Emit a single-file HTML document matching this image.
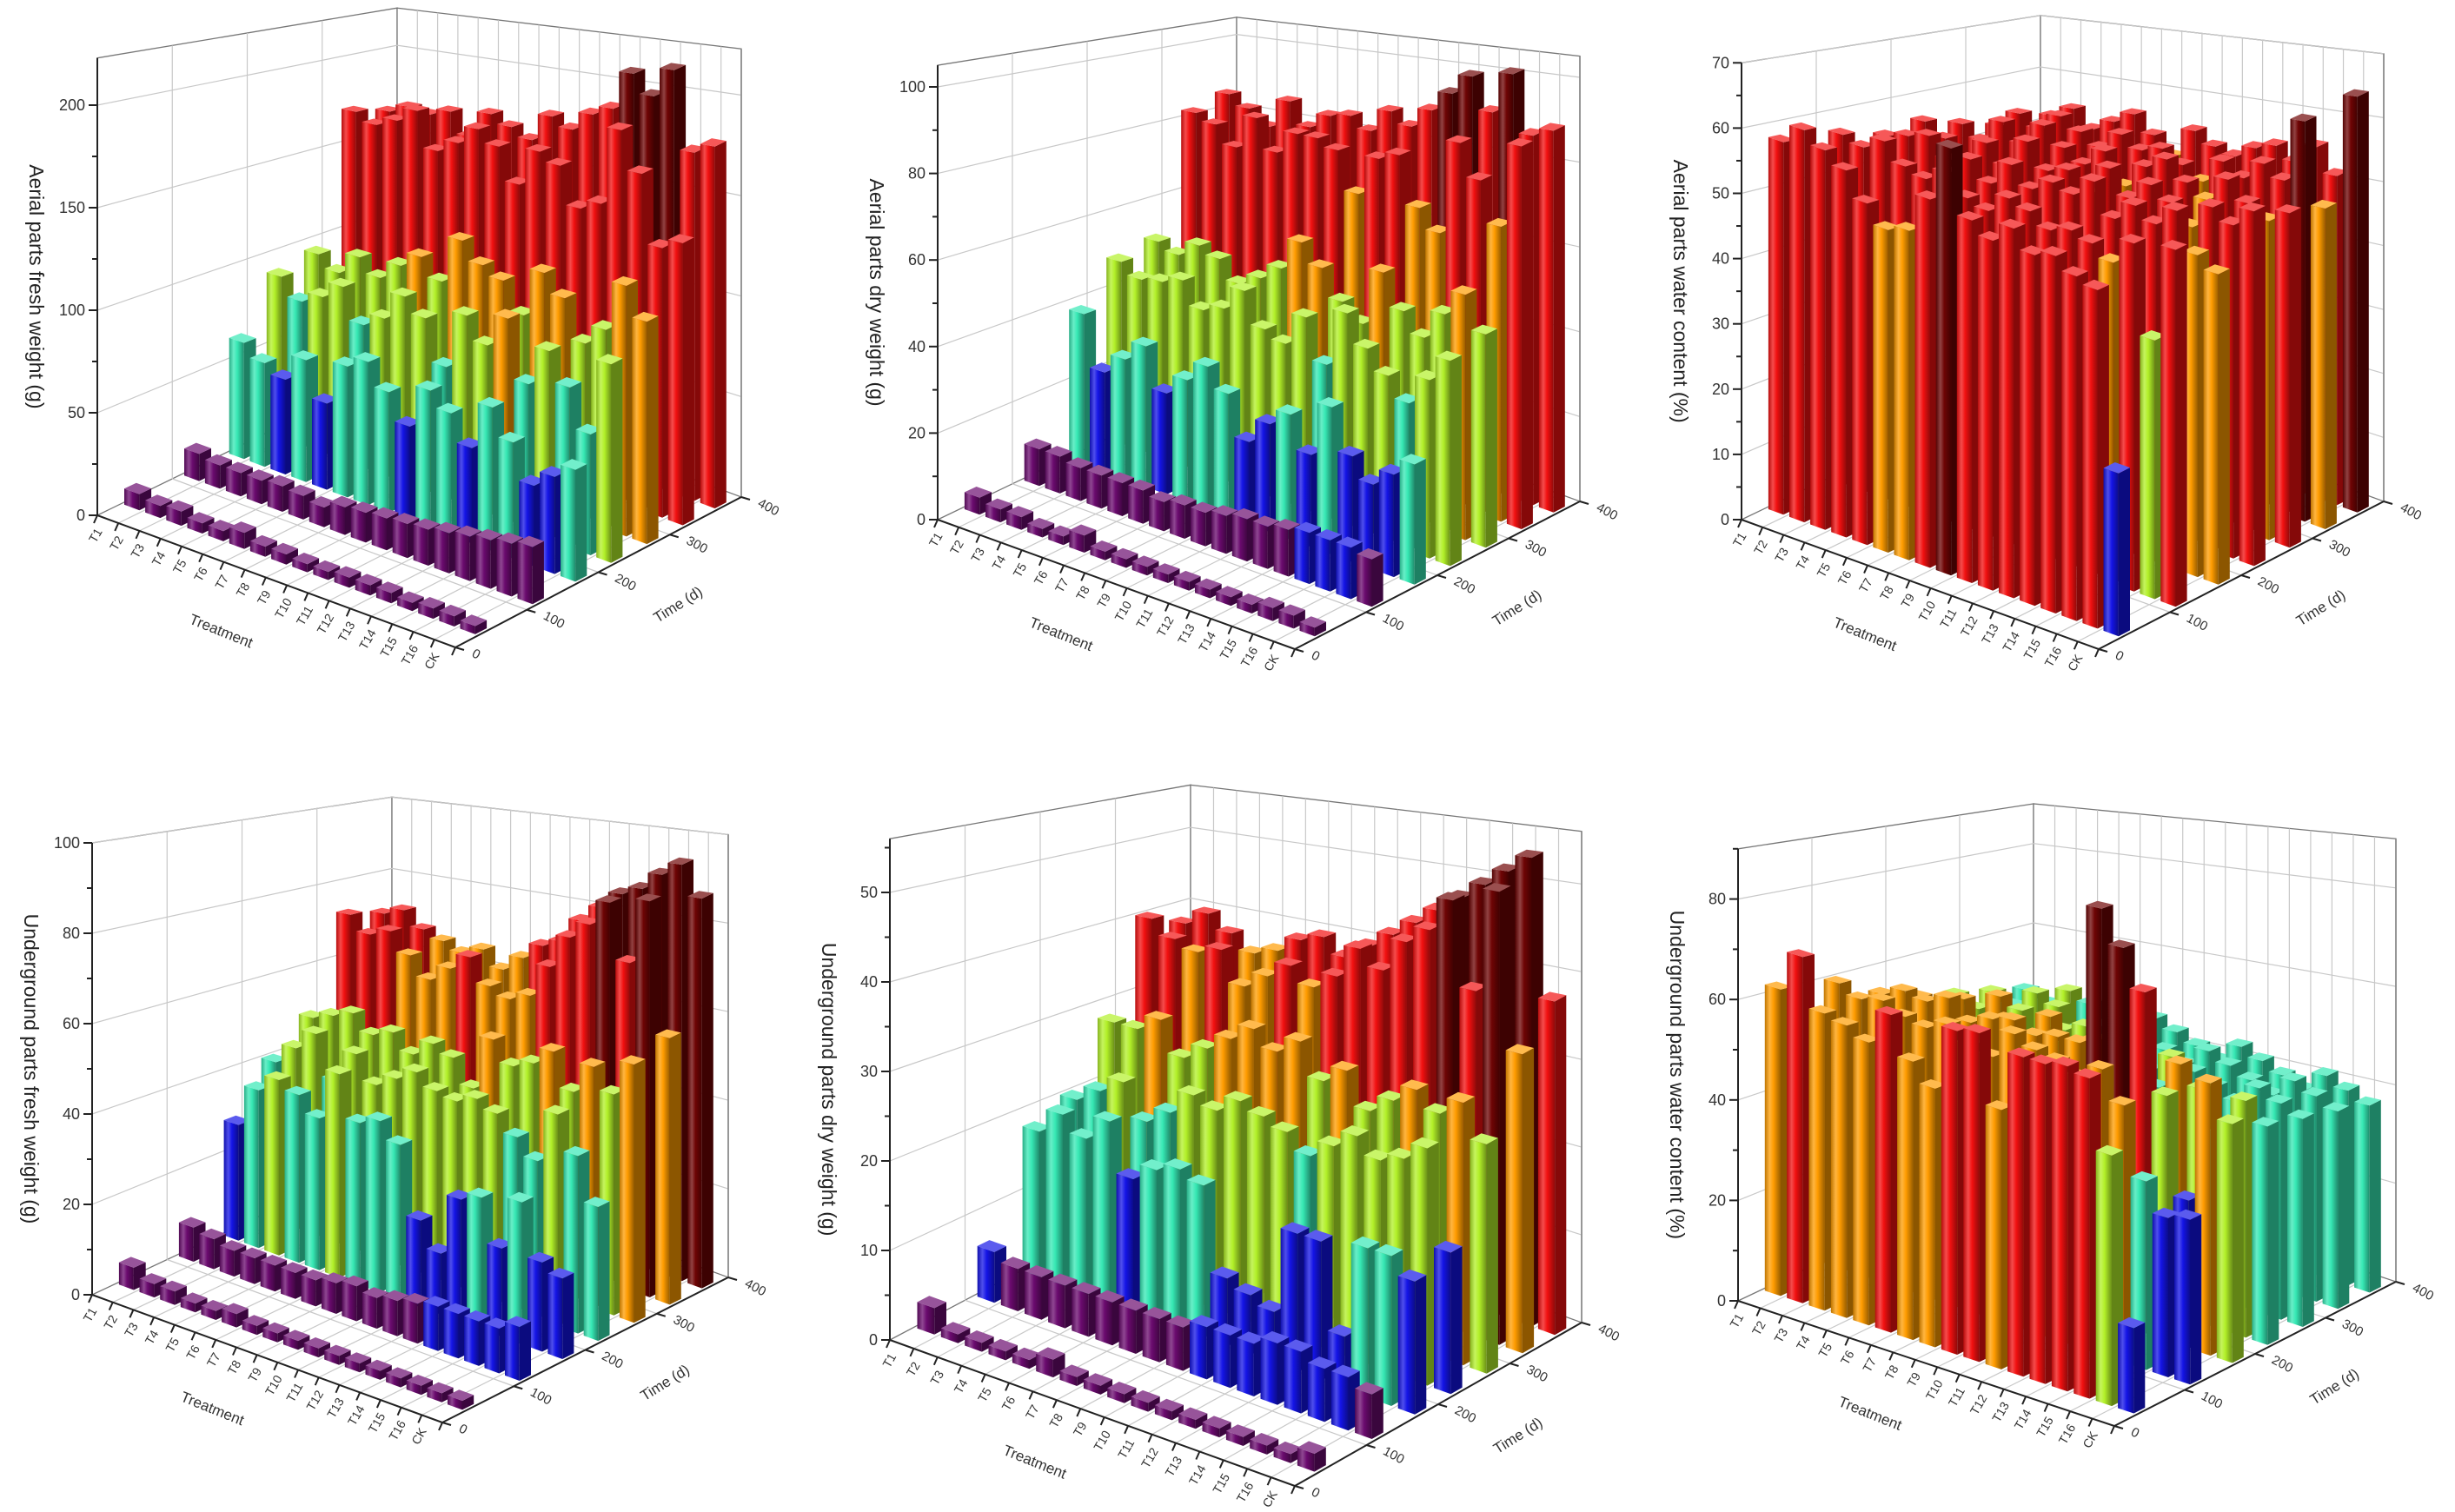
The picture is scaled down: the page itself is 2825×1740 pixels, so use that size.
<!DOCTYPE html>
<html><head><meta charset="utf-8">
<style>
html,body{margin:0;padding:0;background:#fff;}
svg{display:block;font-family:"Liberation Sans",Arial,sans-serif;}
</style></head>
<body>
<svg id="fig" width="2825" height="1740" viewBox="0 0 2825 1740" xmlns="http://www.w3.org/2000/svg">
<defs id="defs"></defs>
</svg>
<script>
// ---- data ----
const treatments = ["T1","T2","T3","T4","T5","T6","T7","T8","T9","T10","T11","T12","T13","T14","T15","T16","CK"];
const times = [40, 120, 180, 230, 280, 330, 375];
const timeTicks = [0, 100, 200, 300, 400];

const aerialFresh = [
 [8,6,7,5,5,8,5,5,4,4,5,5,5,4,5,5,4],
 [14,12,12,12,13,12,10,14,15,16,17,18,20,22,24,26,28],
 [62,55,50,64,45,68,74,62,48,70,62,48,72,58,40,48,55],
 [90,80,86,95,78,85,100,92,70,100,88,105,75,95,80,60,98],
 [95,88,100,92,102,110,100,125,115,110,95,120,110,90,100,125,110],
 [170,165,170,178,158,165,175,168,150,170,165,145,150,190,170,135,140],
 [165,170,168,172,160,175,170,165,180,175,185,190,210,200,215,175,180]
];
const aerialDry = [
 [4,3,3,2,2,4,2,2,2,2,2,2,2,2,3,3,2],
 [9,9,8,8,8,8,7,8,8,9,10,10,11,12,12,12,11],
 [38,25,30,35,25,30,35,30,20,26,30,22,35,25,20,24,28],
 [48,45,46,48,42,44,50,42,40,48,38,52,45,40,35,42,48],
 [50,48,52,50,45,48,52,60,55,48,44,58,50,45,52,58,50],
 [82,80,75,84,76,82,82,80,70,80,82,70,65,88,80,70,90],
 [85,82,78,86,80,84,85,82,88,85,90,95,100,92,102,88,90]
];
const aerialWater = [
 [58,61,59,57,53,50,51,57,66,56,54,57,54,55,53,52,25],
 [57,56,58,55,54,56,53,52,55,54,52,53,52,50,54,40,55],
 [55,56,57,54,55,52,56,53,55,54,57,52,55,53,56,50,48],
 [56,54,50,55,52,57,53,54,51,56,52,55,53,50,54,52,55],
 [54,52,56,53,57,54,52,55,50,54,56,53,51,55,52,50,52],
 [52,55,53,56,54,52,55,53,54,52,50,54,52,55,53,63,50],
 [50,53,55,52,54,56,53,50,55,53,52,54,55,53,56,52,65]
];
const underFresh = [
 [5,3,3,2,2,3,2,2,2,2,2,2,2,2,2,2,2],
 [8,7,6,6,6,6,6,7,8,7,8,9,10,10,10,10,12],
 [28,38,42,40,36,48,38,40,36,20,14,28,30,20,32,20,18],
 [40,45,50,40,48,42,45,48,45,44,46,44,40,36,48,40,30],
 [48,50,52,48,50,46,50,48,42,55,50,52,56,48,55,50,58],
 [72,68,70,65,60,64,68,62,60,62,70,78,82,88,75,90,60],
 [70,72,68,66,64,66,62,66,70,72,78,82,86,88,92,95,88]
];
const underDry = [
 [3,1,1,1,1,2,1,1,1,1,1,1,1,1,1,1,2],
 [6,5,5,5,5,5,5,5,5,6,6,6,7,7,6,6,5],
 [18,21,19,22,16,18,19,18,8,7,6,16,16,6,17,17,15],
 [20,22,24,20,22,25,24,26,25,24,22,24,26,24,25,27,16],
 [28,28,30,26,28,30,32,30,32,28,30,26,28,30,28,30,26],
 [40,38,37,38,34,36,38,36,38,42,40,44,46,50,40,52,34],
 [38,40,38,36,37,39,40,38,40,42,44,46,48,50,52,54,38]
];
const underWater = [
 [62,70,60,59,57,64,56,52,65,66,52,64,64,65,64,50,17],
 [60,58,59,57,56,58,55,54,60,58,57,55,58,52,38,32,33],
 [55,57,56,58,54,56,57,55,56,56,85,78,70,50,30,55,48],
 [52,50,54,50,52,48,55,50,52,48,50,46,52,48,40,48,44],
 [50,48,52,50,46,48,50,48,46,44,48,46,44,42,46,44,42],
 [48,46,50,48,44,46,48,46,44,42,46,44,42,40,44,42,40],
 [46,44,48,46,42,44,46,44,42,40,44,42,40,38,42,40,38]
];

const palette = ["#6a0a6e","#1414e6","#36e8b4","#b2f028","#ff9c00","#f21010","#6e0404"];

const panels = [
 {title:"Aerial parts fresh weight (g)", values:aerialFresh, yTicks:[0,50,100,150,200], minor:25, zmax:223, thr:[35,55,82,105,135,195],
  O:[112,593], A:[524,745], B:[853,572], k:2.36},
 {title:"Aerial parts dry weight (g)", values:aerialDry, yTicks:[0,20,40,60,80,100], minor:10, zmax:105, thr:[12,27,40,55,72,95],
  O:[1079,598], A:[1490,747], B:[1818,577], k:4.98},
 {title:"Aerial parts water content (%)", values:aerialWater, yTicks:[0,10,20,30,40,50,60,70], minor:5, zmax:70, thr:[5,30,35,42,52,62],
  O:[2004,598], A:[2415,747], B:[2743,577], k:7.51},
 {title:"Underground parts fresh weight (g)", values:underFresh, yTicks:[0,20,40,60,80,100], minor:10, zmax:100, thr:[10,30,42,55,68,85],
  O:[106,1490], A:[509,1637], B:[838,1470], k:5.2},
 {title:"Underground parts dry weight (g)", values:underDry, yTicks:[0,10,20,30,40,50], minor:5, zmax:56, thr:[6,17,24,30,38,48],
  O:[1024,1542], A:[1490,1710], B:[1820,1522], k:10.3},
 {title:"Underground parts water content (%)", values:underWater, yTicks:[0,20,40,60,80], minor:10, zmax:90, thr:[10,38,48,52,63,75],
  O:[2000,1497], A:[2433,1641], B:[2757,1475], k:5.78}
];

const NS = "http://www.w3.org/2000/svg";
const svg = document.getElementById("fig");
const defs = document.getElementById("defs");

function shade(hex, f){
  let r=parseInt(hex.slice(1,3),16),g=parseInt(hex.slice(3,5),16),b=parseInt(hex.slice(5,7),16);
  if(f>1){r=r+(255-r)*(f-1);g=g+(255-g)*(f-1);b=b+(255-b)*(f-1);}
  else{r*=f;g*=f;b*=f;}
  return "rgb("+Math.round(r)+","+Math.round(g)+","+Math.round(b)+")";
}
palette.forEach(function(c,ci){
  const lg=document.createElementNS(NS,"linearGradient");
  lg.setAttribute("id","g"+ci);
  lg.setAttribute("x1","0");lg.setAttribute("x2","1");lg.setAttribute("y1","0");lg.setAttribute("y2","0");
  [[0,shade(c,0.75)],[0.3,shade(c,1.25)],[0.55,c],[1,shade(c,0.6)]].forEach(function(s){
    const st=document.createElementNS(NS,"stop");
    st.setAttribute("offset",s[0]);st.setAttribute("stop-color",s[1]);lg.appendChild(st);
  });
  defs.appendChild(lg);
});

function mk(tag, attrs, parent){
  const e=document.createElementNS(NS,tag);
  for(const k in attrs) e.setAttribute(k,attrs[k]);
  (parent||svg).appendChild(e);
  return e;
}
function pts(a){return a.map(function(p){return p[0].toFixed(1)+","+p[1].toFixed(1);}).join(" ");}

panels.forEach(function(P, pi){
  const O=P.O, A=P.A, B=P.B;
  const C=[O[0]+B[0]-A[0]+16, O[1]+B[1]-A[1]+5];
  const kO=P.k, kA=P.k, kB=P.k*0.98, kC=P.k*0.79;
  const nT=treatments.length;
  function fl(u,t){
    const a=u/nT, b=t/400;
    return [(1-a)*(1-b)*O[0]+a*(1-b)*A[0]+a*b*B[0]+(1-a)*b*C[0],
            (1-a)*(1-b)*O[1]+a*(1-b)*A[1]+a*b*B[1]+(1-a)*b*C[1]];
  }
  function kk(u,t){const a=u/nT,b=t/400;return (1-a)*(1-b)*kO+a*(1-b)*kA+a*b*kB+(1-a)*b*kC;}
  function pt(u,t,z){const p=fl(u,t);return [p[0],p[1]-z*kk(u,t)];}
  function colorIdx(v){let i=0;while(i<P.thr.length && v>=P.thr[i]) i++;return i;}

  const g=mk("g",{});
  
  

  const wallL=mk("polygon",{points:pts([pt(0,0,0),pt(0,400,0),pt(0,400,P.zmax),pt(0,0,P.zmax)]),fill:"#fff",stroke:"#777","stroke-width":1.3},g);
  
  
  const wallR=mk("polygon",{points:pts([pt(0,400,0),pt(nT,400,0),pt(nT,400,P.zmax),pt(0,400,P.zmax)]),fill:"#fff",stroke:"#777","stroke-width":1.3},g);
  
  
  const grid=mk("g",{stroke:"#c8c8c8","stroke-width":1.2,fill:"none"},g);
  
  
  P.yTicks.forEach(function(v){
    if(v===0) return;
    mk("polyline",{points:pts([pt(0,0,v),pt(0,400,v),pt(nT,400,v)])},grid);
  });
  [100,200,300].forEach(function(t){
    mk("line",{x1:pt(0,t,0)[0],y1:pt(0,t,0)[1],x2:pt(0,t,P.zmax)[0],y2:pt(0,t,P.zmax)[1]},grid);
    mk("line",{x1:fl(0,t)[0],y1:fl(0,t)[1],x2:fl(nT,t)[0],y2:fl(nT,t)[1]},grid);
  });
  for(let j=1;j<=nT;j++){
    mk("line",{x1:pt(j,400,0)[0],y1:pt(j,400,0)[1],x2:pt(j,400,P.zmax)[0],y2:pt(j,400,P.zmax)[1]},grid);
    mk("line",{x1:fl(j,0)[0],y1:fl(j,0)[1],x2:fl(j,400)[0],y2:fl(j,400)[1]},grid);
  }
  mk("line",{x1:pt(nT,400,0)[0],y1:pt(nT,400,0)[1],x2:pt(nT,400,P.zmax)[0],y2:pt(nT,400,P.zmax)[1],stroke:"#777","stroke-width":1.3},g);

  const bars=[];
  P.values.forEach(function(row,ri){
    row.forEach(function(v,ti){bars.push({v:v,ti:ti,ri:ri,y:fl(ti+0.5,times[ri])[1]});});
  });
  bars.sort(function(a,b){return a.y-b.y;});
  const hw=0.36, hd=8;
  const barsG=mk("g",{},g);
  
  
  bars.forEach(function(b){
    const u0=b.ti+0.5-hw,u1=b.ti+0.5+hw,t0=times[b.ri]-hd,t1=times[b.ri]+hd;
    const ci=colorIdx(b.v), col=palette[ci];
    const bg=mk("g",{},barsG);
    
    
    mk("polygon",{points:pts([pt(u1,t0,0),pt(u1,t1,0),pt(u1,t1,b.v),pt(u1,t0,b.v)]),fill:shade(col,0.55)},bg);
    mk("polygon",{points:pts([pt(u0,t0,0),pt(u1,t0,0),pt(u1,t0,b.v),pt(u0,t0,b.v)]),fill:"url(#g"+ci+")"},bg);
    mk("polygon",{points:pts([pt(u0,t0,b.v),pt(u1,t0,b.v),pt(u1,t1,b.v),pt(u0,t1,b.v)]),fill:shade(col,1.3)},bg);
  });

  const ax=mk("g",{stroke:"#222","stroke-width":2,fill:"none"},g);
  
  
  mk("line",{x1:O[0],y1:O[1],x2:pt(0,0,P.zmax)[0],y2:pt(0,0,P.zmax)[1]},ax);
  mk("line",{x1:O[0],y1:O[1],x2:A[0],y2:A[1]},ax);
  mk("line",{x1:A[0],y1:A[1],x2:B[0],y2:B[1]},ax);
  for(let v=0; v<=P.zmax; v+=P.minor){
    const p=pt(0,0,v); const major=P.yTicks.indexOf(v)>=0;
    mk("line",{x1:p[0]-(major?10:6),y1:p[1],x2:p[0],y2:p[1]},ax);
  }
  for(let j=0;j<=nT;j++){const p=fl(j,0);mk("line",{x1:p[0],y1:p[1],x2:p[0]-4,y2:p[1]+9},ax);}
  timeTicks.forEach(function(t){const p=fl(nT,t);mk("line",{x1:p[0],y1:p[1],x2:p[0]+10,y2:p[1]+3},ax);});

  const lab=mk("g",{fill:"#333","font-size":18},g);
  
  
  P.yTicks.forEach(function(v){
    const p=pt(0,0,v);
    const t=mk("text",{x:p[0]-14,y:p[1]+6,"text-anchor":"end"},lab);t.textContent=v;
  });
  treatments.forEach(function(name,j){
    const p=fl(j+0.5,0);
    const x=p[0]-6,y=p[1]+14;
    const t=mk("text",{x:x,y:y,"text-anchor":"end","font-size":14,transform:"rotate(-60 "+x+" "+y+")"},lab);t.textContent=name;
  });
  timeTicks.forEach(function(tv){
    const p=fl(nT,tv);
    const x=p[0]+18,y=p[1]+10;
    const t=mk("text",{x:x,y:y,"font-size":15,transform:"rotate(28 "+x+" "+y+")"},lab);t.textContent=tv;
  });
  const tx=O[0]-78, ty=(O[1]+pt(0,0,P.zmax)[1])/2;
  const yTitle=mk("text",{x:tx,y:ty,"text-anchor":"middle","font-size":23,fill:"#222",transform:"rotate(90 "+tx+" "+ty+")"},g);
  yTitle.textContent=P.title;
  
  
  const m1=fl(nT*0.45,0); const trx=m1[0]-45, tr_y=m1[1]+70;
  const trT=mk("text",{x:trx,y:tr_y,"text-anchor":"middle","font-size":17,fill:"#333",transform:"rotate(22 "+trx+" "+tr_y+")"},g);
  trT.textContent="Treatment";
  
  
  const m2=fl(nT,230); const tmx=m2[0]+70, tmy=m2[1]+55;
  const tmT=mk("text",{x:tmx,y:tmy,"text-anchor":"middle","font-size":17,fill:"#333",transform:"rotate(-32 "+tmx+" "+tmy+")"},g);
  tmT.textContent="Time (d)";
  
  
});
</script>
</body></html>
